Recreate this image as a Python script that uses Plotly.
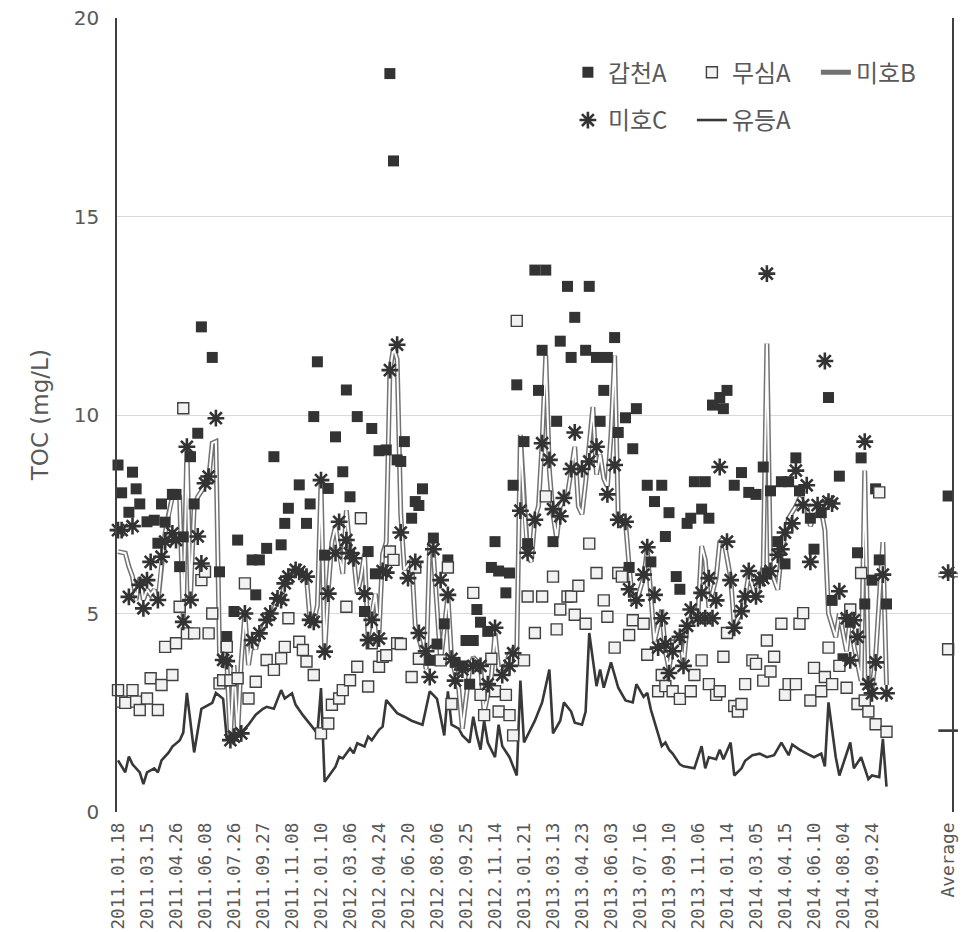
import plotly.graph_objects as go

N = None

# ---------------- data ----------------
tick_dates = ["2011.01.18", "2011.03.15", "2011.04.26", "2011.06.08", "2011.07.26",
              "2011.09.27", "2011.11.08", "2012.01.10", "2012.03.06", "2012.04.24",
              "2012.06.20", "2012.08.06", "2012.09.25", "2012.11.14", "2013.01.21",
              "2013.03.13", "2013.04.23", "2013.06.03", "2013.07.16", "2013.09.10",
              "2013.11.06", "2014.01.14", "2014.03.05", "2014.04.15", "2014.06.10",
              "2014.08.04", "2014.09.24"]
avg_label = "Average"
label_step = 8          # one date label every 8 sampling categories
avg_category = 229      # category position of the "Average" column

gapcheon_a = [
    8.74, 8.04, N, 7.55, 8.56, 8.14, 7.76, N,
    7.31, N, 7.35, 6.77, 7.76, 7.3, N, 8.0,
    8.0, 6.18, 6.93, N, 8.95, 7.76, 9.54, 12.22,
    N, N, 11.45, N, 6.05, N, 4.42, N,
    5.05, 6.85, N, N, N, 6.35, 5.47, 6.35,
    N, 6.64, N, 8.95, N, 6.73, 7.27, 7.65,
    N, N, 8.24, N, 7.27, 7.76, 9.96, 11.34,
    N, 6.47, 8.15, N, 9.45, N, 8.57, 10.63,
    7.94, N, 9.96, N, 5.05, 6.56, 9.66, 6.0,
    9.1, N, 9.12, 18.6, 16.4, 8.87, 8.83, 9.33,
    N, 7.4, 7.82, 7.72, 8.14, N, 3.82, 6.9,
    4.23, N, 4.74, 6.35, N, 3.77, N, 3.68,
    4.32, 3.22, 4.32, 5.1, 4.78, N, 4.55, 6.16,
    6.81, 6.07, N, 5.52, 6.02, 8.23, 10.76, N,
    9.33, 6.76, N, 13.65, 10.62, 11.63, 13.65, N,
    6.81, 9.84, 11.86, N, 13.24, 11.45, 12.46, N,
    N, 11.63, 13.24, N, 11.45, 9.84, 10.62, 11.45,
    N, 11.95, 9.56, N, 9.93, 6.16, 9.15, 10.16,
    N, N, 8.23, 6.3, 7.82, N, 8.23, 6.94,
    7.54, N, 5.93, 5.61, N, 7.27, 7.4, 8.32,
    N, 7.63, 8.32, 7.4, 10.25, N, 10.44, 10.16,
    10.62, N, 8.23, N, 8.55, N, 8.05, N,
    8.0, N, 8.69, 6.02, 8.09, N, 6.81, 8.32,
    6.25, 8.32, N, 8.92, 8.09, N, N, 7.4,
    6.62, N, 7.54, N, 10.44, 5.33, N, 8.46,
    3.86, N, 4.78, N, 6.53, 8.92, 5.24, N,
    5.84, 8.14, 6.35, N, 5.24,
]

musim_a = [
    3.07, 2.78, 2.75, N, 3.07, 2.78, 2.57, N,
    2.86, 3.37, N, 2.57, 3.2, 4.16, N, 3.45,
    4.25, 5.17, 10.17, 4.5, N, 4.5, N, 5.84,
    6.05, 4.5, 5.0, N, 3.24, 3.32, 4.16, 3.32,
    N, 3.37, N, 5.76, 2.86, N, 3.28, N,
    N, 3.83, N, 3.58, N, 3.87, 4.16, 4.88,
    N, N, 4.29, 4.08, 3.79, N, 3.45, N,
    1.98, N, 2.23, 2.7, N, 2.86, 3.07, 5.17,
    3.32, N, 3.66, 7.4, N, 3.16, 4.25, N,
    3.66, 3.91, 3.95, 6.56, 6.35, 4.25, 4.23, N,
    N, 3.4, 6.16, 3.86, N, N, N, N,
    N, 3.82, N, 6.16, 2.72, N, N, N,
    N, N, 5.52, N, 2.95, 2.44, N, 3.86,
    3.04, 2.53, N, 2.95, 2.44, 1.93, 12.37, N,
    3.82, 5.43, N, 4.51, N, 5.43, 7.95, N,
    5.93, 4.6, 5.1, N, 5.43, 5.43, 4.97, 5.7,
    N, 4.74, 6.76, N, 6.02, N, 5.33, 4.92,
    N, 4.14, 6.02, 5.93, N, 4.46, 4.83, N,
    N, 4.74, 3.96, N, N, 3.04, 3.45, 3.17,
    N, 3.04, 4.19, 2.85, N, N, 3.04, 3.45,
    N, 3.82, N, 3.22, N, 2.95, 3.04, 3.91,
    4.51, N, 2.67, 2.53, 2.72, 3.22, N, 3.82,
    3.73, N, 3.31, 4.32, 3.54, 3.91, N, 4.74,
    2.95, 3.22, N, 3.22, 4.74, 5.01, N, 2.81,
    3.63, N, 3.04, 3.4, 4.14, 3.22, N, 3.68,
    N, 3.13, 5.1, N, 2.72, 6.02, 2.81, 2.53,
    N, 2.21, 8.05, N, 2.02,
]

miho_b = [
    6.56, N, 6.52, 6.18, 5.93, 5.34, 5.9, 5.34,
    5.6, 5.47, 5.6, 5.3, 6.26, 7.02, 7.52, 7.94,
    8.03, 7.94, 4.8, 9.2, 5.42, 7.69, 7.94, N,
    8.2, 8.36, 9.29, 9.33, 4.0, 3.75, 3.8, 1.85,
    3.7, 1.95, 3.8, 5.0, 3.7, 4.3, 4.1, 4.5,
    4.6, 4.85, 5.0, 5.1, 5.4, 5.3, 5.8, 5.9,
    6.0, 6.1, 6.0, 5.9, 5.9, 4.8, 4.8, 5.2,
    8.3, 4.0, 5.6, 6.8, 7.2, 6.5, 6.0, 7.6,
    6.6, 6.4, 5.5, 5.9, 6.5, 4.4, 5.0, 5.5,
    4.5, 6.5, 6.8, 11.1, 11.7, 11.4, 7.5, 6.1,
    N, 6.35, 4.7, N, 4.05, 3.6, 6.8, 6.5,
    N, 3.8, N, 5.45, 3.9, N, 3.1, 2.1,
    N, 3.6, 3.9, N, 3.7, 2.5, N, 3.4,
    4.5, 3.6, N, 3.7, 4.0, 4.1, 4.0, 9.5,
    7.7, 6.5, 6.3, 7.4, 7.7, 9.3, 11.5, 8.6,
    7.5, 6.9, 7.7, N, 8.0, 8.6, 9.2, 7.7,
    7.5, 8.3, N, 10.2, 8.5, 9.0, 8.4, 8.2,
    9.5, 11.5, 7.4, N, 7.3, 6.2, 5.3, 5.3,
    N, 5.9, 6.6, 5.5, 4.3, N, 5.1, 4.05,
    3.6, 4.2, N, 4.5, 3.7, 4.7, N, 5.1,
    5.0, 6.7, 6.35, 5.15, N, 5.9, 6.8, 6.9,
    N, 5.9, 4.7, N, 5.06, 5.4, 6.0, N,
    5.4, 5.8, 6.2, 11.8, 6.1, N, 5.6, 6.5,
    7.0, 7.4, N, 7.7, 7.9, N, 7.7, 7.2,
    7.45, N, 7.6, 7.1, 5.0, N, 4.4, 5.0,
    N, 4.05, 4.9, 4.2, N, 3.3, 8.6, 3.3,
    3.1, 3.9, N, 6.8, 3.2,
]

miho_c = [
    7.1, 7.1, N, 5.42, 7.2, N, 5.72, 5.13,
    5.84, 6.3, N, 5.34, 6.43, 6.81, N, 7.02,
    6.85, N, 4.79, 9.2, 5.34, N, 6.94, 6.26,
    8.28, 8.45, N, 9.92, N, 3.83, 3.8, 1.81,
    1.9, N, 1.98, 5.0, N, 4.33, N, 4.5,
    N, 4.84, 5.0, N, 5.38, 5.34, 5.76, 5.93,
    N, 6.1, 6.05, N, 5.93, 4.84, 4.79, N,
    8.36, 4.04, 5.5, N, 6.52, 7.31, N, 6.85,
    6.52, 6.39, N, N, 5.5, 4.33, 4.84, N,
    4.37, 6.07, 6.03, 11.13, N, 11.77, 7.04, N,
    5.89, N, 6.3, 4.51, N, 4.05, 3.4, 6.62,
    N, 5.84, N, 5.47, 3.86, 3.31, N, 3.59,
    N, N, 3.68, N, 3.68, N, 3.22, N,
    4.64, N, 3.45, N, 3.68, 4.0, N, 7.59,
    N, 6.53, N, 7.36, N, 9.29, N, 8.87,
    7.63, N, 7.45, 7.91, N, 8.64, 9.56, N,
    8.64, N, 8.83, N, 9.2, N, N, 8.0,
    N, 8.74, 7.36, N, 7.31, 5.61, N, 5.33,
    N, 5.98, 6.67, N, 5.47, 4.14, 4.88, 4.23,
    3.5, 4.05, N, 4.41, 3.68, 4.69, 5.1, N,
    4.88, 5.52, 4.88, 5.89, 4.88, 5.33, 8.69, N,
    6.81, 5.84, 4.64, N, 5.06, 5.43, 6.07, N,
    5.43, 5.84, 5.89, 13.56, 6.07, N, 6.48, 6.62,
    7.04, N, 7.27, 8.6, N, 7.73, 8.23, 6.3,
    N, 7.73, N, 11.36, 7.82, 7.77, N, 5.56,
    N, 4.88, 3.82, 4.83, 4.41, N, 9.33, 3.22,
    2.99, 3.77, N, 5.98, 2.99,
]

yudeung_a = [
    1.3, N, 1.0, 1.4, 1.2, N, 1.0, 0.7,
    1.0, N, 1.1, 1.0, 1.3, N, 1.5, 1.65,
    N, 1.8, 2.0, 3.0, 2.3, 1.5, N, 2.6,
    2.65, N, 2.75, 3.0, N, 2.85, 1.85, N,
    1.9, N, 2.0, N, 2.2, N, 2.45, N,
    2.6, 2.65, N, 2.6, N, 3.07, 2.86, N,
    2.99, 2.7, N, 2.44, 2.32, N, 2.07, 1.98,
    3.12, 0.76, 0.89, N, 1.14, 1.39, 1.35, N,
    1.6, 1.48, 1.73, N, 1.65, 1.9, 1.81, N,
    2.07, 2.15, 2.82, N, 2.6, 2.49, N, 2.4,
    N, 2.3, N, N, 2.2, N, 3.04, N,
    2.85, N, 1.93, 3.04, 2.2, N, 2.1, 1.93,
    N, 1.75, 2.4, 1.93, 1.57, 2.3, 1.75, N,
    1.38, 2.2, 1.66, N, 1.38, N, 0.92, 3.31,
    1.75, N, N, 2.3, N, 2.76, N, 3.59,
    1.98, N, 2.3, 2.76, N, 2.53, 2.25, N,
    2.2, 2.53, 4.51, N, 3.17, 3.59, 3.13, N,
    3.77, N, 3.13, N, 2.81, N, 2.76, 3.22,
    N, 2.9, 3.0, 2.58, N, 1.93, 1.66, 1.75,
    1.57, 1.47, N, 1.2, 1.15, N, N, 1.1,
    N, 1.66, 1.1, 1.38, N, 1.33, 1.57, 1.33,
    N, 1.75, 0.92, N, 1.1, 1.29, N, 1.43,
    N, 1.47, N, 1.38, N, 1.43, N, 1.75,
    N, 1.43, 1.7, N, 1.57, N, 1.47, N,
    1.38, N, 1.47, 1.15, 2.76, N, 1.38, 0.92,
    N, 1.47, 1.75, 1.1, N, 1.38, N, 0.83,
    0.92, N, 0.88, 1.84, 0.64,
]

averages = {"갑천A": 7.96, "무심A": 4.1, "미호B": 5.97, "미호C": 6.03, "유등A": 2.05}

# ---------------- styles ----------------
DARK = "#333333"
TEXT = "#595959"
GRID = "#d9d9d9"
B_EDGE = "#727272"
YD_LINE = "#383838"
B_OUTER_W = 5.0
B_INNER_W = 2.0


def xs(series):
    return list(range(len(series)))


fig = go.Figure()

# 유등A: dark solid line
fig.add_trace(go.Scatter(
    x=xs(yudeung_a), y=yudeung_a, mode="lines", connectgaps=True,
    line=dict(color=YD_LINE, width=2.6), name="유등A",
    legend="legend2", legendrank=2))

# 미호B: double (compound) line = gray wide line + white core
fig.add_trace(go.Scatter(
    x=xs(miho_b), y=miho_b, mode="lines", connectgaps=True,
    line=dict(color=B_EDGE, width=B_OUTER_W), name="미호B",
    legend="legend", legendrank=3))
fig.add_trace(go.Scatter(
    x=xs(miho_b), y=miho_b, mode="lines", connectgaps=True,
    line=dict(color="white", width=B_INNER_W), showlegend=False, hoverinfo="skip"))

# 갑천A: filled squares
fig.add_trace(go.Scatter(
    x=xs(gapcheon_a), y=gapcheon_a, mode="markers", cliponaxis=False,
    marker=dict(symbol="square", size=11, color=DARK, line=dict(width=0)),
    name="갑천A", legend="legend", legendrank=1))

# 무심A: open squares
fig.add_trace(go.Scatter(
    x=xs(musim_a), y=musim_a, mode="markers", cliponaxis=False,
    marker=dict(symbol="square", size=11, color="#f2f2f2",
                line=dict(width=1.4, color="#404040")),
    name="무심A", legend="legend", legendrank=2))

# 미호C: asterisks
fig.add_trace(go.Scatter(
    x=xs(miho_c), y=miho_c, mode="markers", cliponaxis=False,
    marker=dict(symbol="asterisk-open", size=14, color=DARK,
                line=dict(width=2.6, color=DARK)),
    name="미호C", legend="legend2", legendrank=1))

# ---------------- Average column ----------------
fig.add_trace(go.Scatter(x=[avg_category], y=[averages["유등A"]], mode="markers",
                         marker=dict(symbol="line-ew", size=14, line=dict(width=2.6, color=YD_LINE)),
                         showlegend=False, cliponaxis=False))
fig.add_trace(go.Scatter(x=[avg_category], y=[averages["미호B"]], mode="markers",
                         marker=dict(symbol="line-ew", size=14, line=dict(width=B_OUTER_W, color=B_EDGE)),
                         showlegend=False, cliponaxis=False))
fig.add_trace(go.Scatter(x=[avg_category], y=[averages["미호B"]], mode="markers",
                         marker=dict(symbol="line-ew", size=14, line=dict(width=B_INNER_W, color="white")),
                         showlegend=False, cliponaxis=False))
fig.add_trace(go.Scatter(x=[avg_category], y=[averages["갑천A"]], mode="markers",
                         marker=dict(symbol="square", size=11, color=DARK, line=dict(width=0)),
                         showlegend=False, cliponaxis=False))
fig.add_trace(go.Scatter(x=[avg_category], y=[averages["무심A"]], mode="markers",
                         marker=dict(symbol="square", size=11, color="#f2f2f2",
                                     line=dict(width=1.4, color="#404040")),
                         showlegend=False, cliponaxis=False))
fig.add_trace(go.Scatter(x=[avg_category], y=[averages["미호C"]], mode="markers",
                         marker=dict(symbol="asterisk-open", size=14, color=DARK,
                                     line=dict(width=2.6, color=DARK)),
                         showlegend=False, cliponaxis=False))

tickvals = [i * label_step for i in range(len(tick_dates))] + [avg_category]
ticktext = tick_dates + [avg_label]

legend_common = dict(
    orientation="h", xanchor="left", yanchor="middle",
    font=dict(family="Noto Sans CJK KR", size=24, color=TEXT),
    bgcolor="rgba(0,0,0,0)", entrywidth=79, itemwidth=30,
)

fig.update_layout(
    width=962, height=932,
    margin=dict(l=117, r=10, t=18, b=120, autoexpand=False),
    paper_bgcolor="white", plot_bgcolor="white",
    showlegend=True,
    xaxis=dict(
        range=[-0.28, 230.07], tickmode="array", tickvals=tickvals, ticktext=ticktext,
        tickangle=-90, ticks="", showgrid=False, zeroline=False, showline=False,
        ticklabelstandoff=6, automargin=False,
        tickfont=dict(family="DejaVu Sans Mono", size=17.8, color=TEXT),
    ),
    yaxis=dict(
        range=[0, 20], tickmode="array", tickvals=[0, 5, 10, 15, 20],
        showgrid=True, gridcolor=GRID, gridwidth=1, zeroline=False,
        showline=True, linecolor="#404040", linewidth=1.5, mirror=True, ticks="",
        ticklabelstandoff=12, automargin=False,
        tickfont=dict(family="DejaVu Sans", size=20, color=TEXT),
    ),
    legend=dict(x=0.540, y=0.9312, **legend_common),
    legend2=dict(x=0.540, y=0.871, **legend_common),
    annotations=[dict(
        text="TOC (mg/L)", xref="paper", yref="paper", x=-0.092, y=0.5,
        textangle=-90, showarrow=False, xanchor="center", yanchor="middle",
        font=dict(family="DejaVu Sans", size=23, color=TEXT),
    )],
)

fig.write_html("out.html")
